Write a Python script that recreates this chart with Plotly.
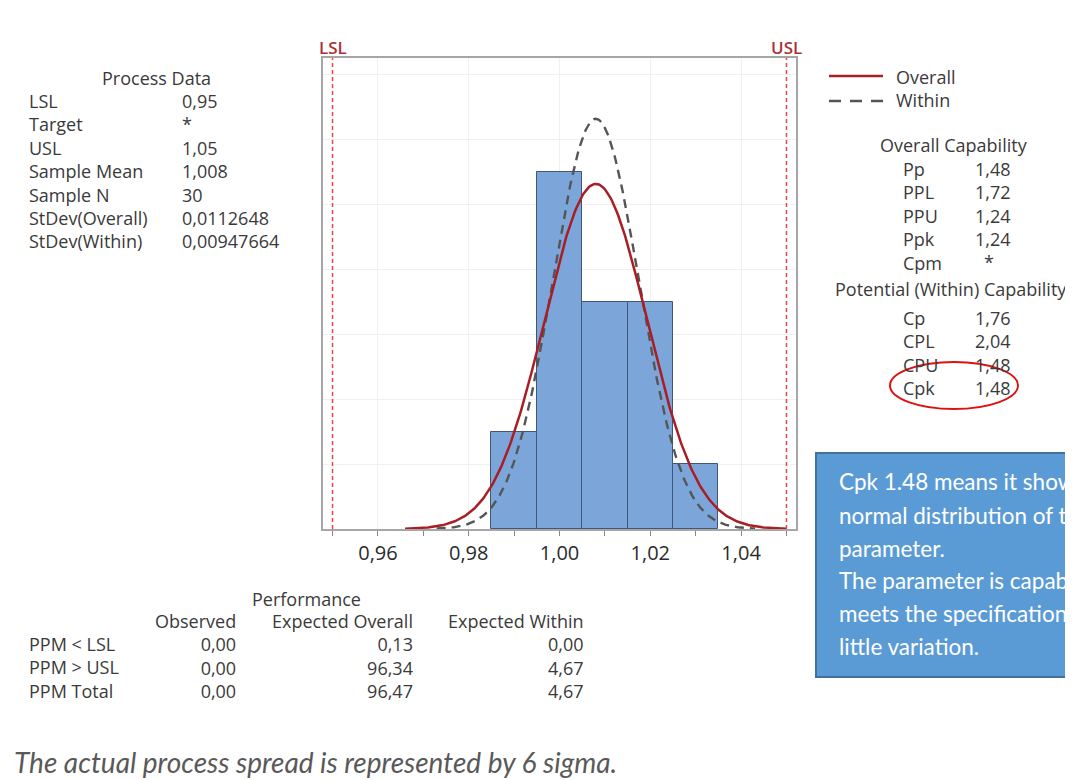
import numpy as np
import plotly.graph_objects as go

# ---------------- data ----------------
bin_centers = [0.99, 1.00, 1.01, 1.02, 1.03]
bin_counts = [3, 11, 7, 7, 2]
bin_width = 0.01
LSL, USL = 0.95, 1.05
sample_mean = 1.008
sample_n = 30
sd_overall = 0.0112648
sd_within = 0.00947664
x_tickvals = [0.96, 0.98, 1.00, 1.02, 1.04]
x_ticktext = ["0,96", "0,98", "1,00", "1,02", "1,04"]

process_labels = ["LSL", "Target", "USL", "Sample Mean", "Sample N", "StDev(Overall)", "StDev(Within)"]
process_values = ["0,95", "*", "1,05", "1,008", "30", "0,0112648", "0,00947664"]

overall_labels = ["Pp", "PPL", "PPU", "Ppk", "Cpm"]
overall_values = ["1,48", "1,72", "1,24", "1,24", "*"]
within_labels = ["Cp", "CPL", "CPU", "Cpk"]
within_values = ["1,76", "2,04", "1,48", "1,48"]

perf_rows = ["PPM < LSL", "PPM > USL", "PPM Total"]
perf_cols = ["Observed", "Expected Overall", "Expected Within"]
perf_observed = ["0,00", "0,00", "0,00"]
perf_exp_overall = ["0,13", "96,34", "96,47"]
perf_exp_within = ["0,00", "4,67", "4,67"]

callout_lines = ["Cpk 1.48 means it shows", "normal distribution of the", "parameter.",
                 "The parameter is capable and", "meets the specification with", "little variation."]
caption = "The actual process spread is represented by 6 sigma."

# ---------------- layout helpers ----------------
# page body has an 8px margin, so figure pixel = page pixel - 8
OFF = 8
W, H = 1073 - OFF, 780 - OFF
def fx(x): return (x - OFF) / W
def fy(y): return 1 - (y - OFF) / H

TXT = "#3a3a3a"
FONT = "Open Sans"
FS = 18

fig = go.Figure()

# histogram
fig.add_trace(go.Bar(x=bin_centers, y=bin_counts, width=bin_width,
                     marker=dict(color="#7ca6da", line=dict(color="#3f5775", width=1)),
                     showlegend=False, hoverinfo="x+y"))

def norm_curve(mu, sd, k):
    xs = np.linspace(mu - k * sd, mu + k * sd, 300)
    ys = sample_n * bin_width / (sd * np.sqrt(2 * np.pi)) * np.exp(-0.5 * ((xs - mu) / sd) ** 2)
    return xs, ys

xo, yo = norm_curve(sample_mean, sd_overall, 3.73)
xw, yw = norm_curve(sample_mean, sd_within, 3.7)
fig.add_trace(go.Scatter(x=xw, y=yw, mode="lines", line=dict(color="#555555", width=2.4, dash="9px,6px"),
                         showlegend=False, hoverinfo="skip"))
fig.add_trace(go.Scatter(x=xo, y=yo, mode="lines", line=dict(color="#a81e24", width=2.5),
                         showlegend=False, hoverinfo="skip"))

shapes = []
annotations = []

# spec lines
for v, name in [(LSL, "LSL"), (USL, "USL")]:
    shapes.append(dict(type="line", xref="x", yref="y domain", x0=v, x1=v, y0=0, y1=1,
                       line=dict(color="#e4464b", width=1.5, dash="4px,3px")))
    annotations.append(dict(x=v, y=1, xref="x", yref="y domain", text=name, showarrow=False,
                            yanchor="bottom", yshift=-3,
                            font=dict(family=FONT, size=17, color="#a83236", weight=600)))

def txt(x, y, s, anchor="left", size=FS, color=TXT, family=FONT, **kw):
    annotations.append(dict(x=fx(x), y=fy(y), xref="paper", yref="paper", text=s, showarrow=False,
                            xanchor=anchor, yanchor="middle", align=anchor if anchor != "center" else "center",
                            font=dict(family=family, size=size, color=color), **kw))

def block(x, y_first, y_last, lines, anchor="left", size=FS):
    txt(x, (y_first + y_last) / 2, "<br>".join(lines), anchor=anchor, size=size)

# Process data
txt(156, 78, "Process Data", anchor="center")
block(27, 102, 240, process_labels)
block(180, 102, 240, process_values)

# legend
shapes.append(dict(type="line", xref="paper", yref="paper", x0=fx(829), x1=fx(883), y0=fy(76), y1=fy(76),
                   line=dict(color="#a81e24", width=2.5)))
shapes.append(dict(type="line", xref="paper", yref="paper", x0=fx(829), x1=fx(883), y0=fy(101), y1=fy(101),
                   line=dict(color="#555555", width=2.4, dash="12px,9px")))
block(894, 77, 100, ["Overall", "Within"])

# overall capability
txt(954, 145.5, "Overall Capability", anchor="center")
block(901, 169.5, 261.5, overall_labels)
block(973, 169.5, 238.5, overall_values[:4])
txt(989, 261.5, overall_values[4], anchor="center")
txt(833, 289, "Potential (Within) Capability")
block(901, 318, 388, within_labels)
block(973, 318, 388, within_values)

# highlight ellipse
shapes.append(dict(type="circle", xref="paper", yref="paper", x0=fx(890), x1=fx(1018), y0=fy(409), y1=fy(362),
                   line=dict(color="#e01010", width=2)))

# performance table
txt(306, 599, "Performance", anchor="center")
col_right = [238, 415, 586]
col_vals = [perf_observed, perf_exp_overall, perf_exp_within]
for c, xr, vals in zip(perf_cols, col_right, col_vals):
    block(xr, 621, 690, [c] + vals, anchor="right")
block(27, 645, 690, perf_rows)

# callout box
shapes.append(dict(type="rect", xref="paper", yref="paper", x0=fx(816), x1=fx(1095), y0=fy(677), y1=fy(453),
                   fillcolor="#5b9bd5", line=dict(color="#41719c", width=2)))
for line, y in zip(callout_lines, [482, 515, 548, 580, 613, 646]):
    txt(837, y, line, size=22.5, color="white", family="Lato")

# caption
txt(12, 762, "<i>" + caption + "</i>", size=28, color="#595959", family="Lato")

fig.update_layout(
    width=W, height=H, margin=dict(l=0, r=0, t=0, b=0),
    paper_bgcolor="white", plot_bgcolor="white",
    shapes=shapes, annotations=annotations, bargap=0,
    xaxis=dict(domain=[fx(323), fx(796)], range=[0.9479, 1.0521], tickvals=x_tickvals, ticktext=x_ticktext,
               ticks="outside", ticklen=5, tickcolor="#888888", showline=True, linecolor="#a6a6a6", linewidth=1.5,
               mirror=True, showgrid=True, gridcolor="#f0f0f0", zeroline=False,
               tickfont=dict(family=FONT, size=20, color="#2b2b2b"),
               minor=dict(tickvals=[0.95, 0.97, 0.99, 1.01, 1.03, 1.05], ticks="outside", ticklen=5,
                          tickcolor="#888888", showgrid=False)),
    yaxis=dict(domain=[fy(529), fy(58)], range=[0, 14.5], dtick=2, showticklabels=False, ticks="",
               showline=True, linecolor="#a6a6a6", linewidth=1.5, mirror=True, showgrid=True,
               gridcolor="#f0f0f0", zeroline=False),
)

fig.write_html("out.html")
